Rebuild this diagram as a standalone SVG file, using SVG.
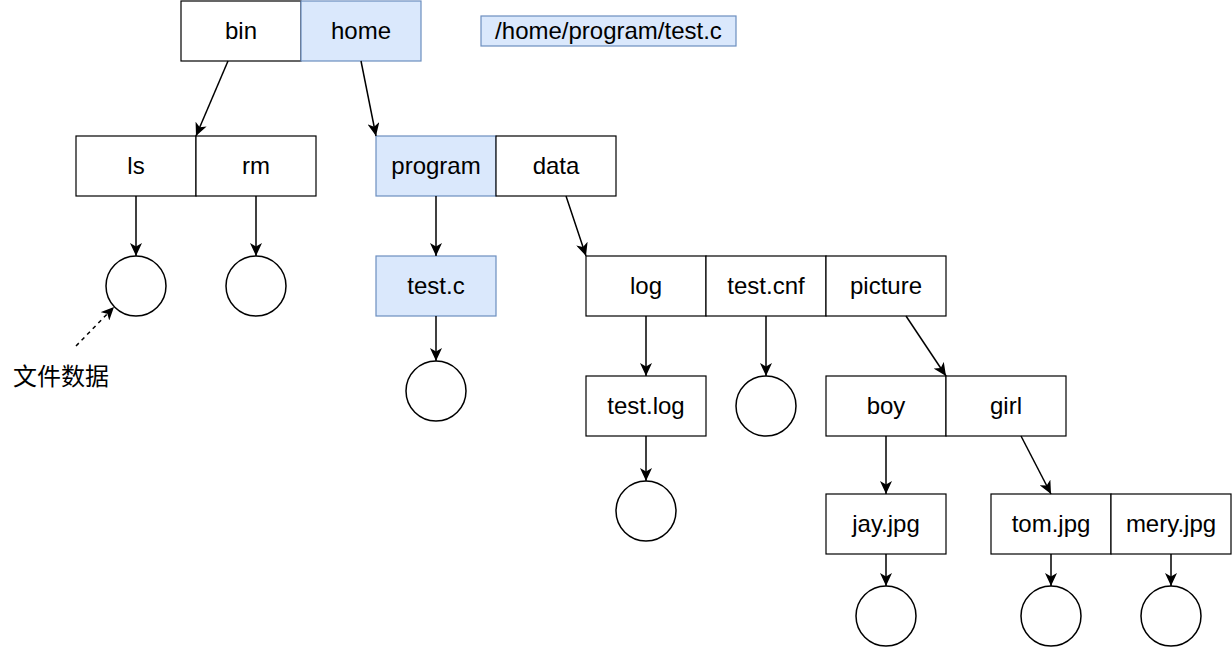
<svg xmlns="http://www.w3.org/2000/svg" width="1232" height="647" viewBox="0 0 1232 647">
<style>
.b{fill:#ffffff;stroke:#000000;stroke-width:1.2}
.h{fill:#dae8fc;stroke:#6c8ebf;stroke-width:1.2}
.c{fill:#ffffff;stroke:#000000;stroke-width:1.5}
text{font-family:"Liberation Sans",Arial,"Noto Sans CJK SC",sans-serif;font-size:24px;fill:#000;text-anchor:middle;dominant-baseline:central}
.e{fill:none;stroke:#000;stroke-width:1.5;marker-end:url(#a)}
.d{fill:none;stroke:#000;stroke-width:1.5;stroke-dasharray:4,4;marker-end:url(#a)}
</style>
<defs>
<marker id="a" markerUnits="userSpaceOnUse" markerWidth="14" markerHeight="12" viewBox="0 0 14 12" refX="13" refY="6" orient="auto">
<path d="M0,0 L13,6 L0,12 L3.5,6 Z" fill="#000"/>
</marker>
</defs>
<g id="n-bin"><rect class="b" x="181" y="1" width="120" height="60"/><text x="241" y="30">bin</text></g>
<g id="n-home"><rect class="h" x="301" y="1" width="120" height="60"/><text x="361" y="30">home</text></g>
<g id="n-path"><rect class="h" x="481" y="16" width="255" height="30"/><text x="608.5" y="30">/home/program/test.c</text></g>
<g id="n-ls"><rect class="b" x="76" y="136" width="120" height="60"/><text x="136" y="165">ls</text></g>
<g id="n-rm"><rect class="b" x="196" y="136" width="120" height="60"/><text x="256" y="165">rm</text></g>
<g id="n-program"><rect class="h" x="376" y="136" width="120" height="60"/><text x="436" y="165">program</text></g>
<g id="n-data"><rect class="b" x="496" y="136" width="120" height="60"/><text x="556" y="165">data</text></g>
<g id="n-testc"><rect class="h" x="376" y="256" width="120" height="60"/><text x="436" y="285">test.c</text></g>
<g id="n-log"><rect class="b" x="586" y="256" width="120" height="60"/><text x="646" y="285">log</text></g>
<g id="n-testcnf"><rect class="b" x="706" y="256" width="120" height="60"/><text x="766" y="285">test.cnf</text></g>
<g id="n-picture"><rect class="b" x="826" y="256" width="120" height="60"/><text x="886" y="285">picture</text></g>
<g id="n-testlog"><rect class="b" x="586" y="376" width="120" height="60"/><text x="646" y="405">test.log</text></g>
<g id="n-boy"><rect class="b" x="826" y="376" width="120" height="60"/><text x="886" y="405">boy</text></g>
<g id="n-girl"><rect class="b" x="946" y="376" width="120" height="60"/><text x="1006" y="405">girl</text></g>
<g id="n-jay"><rect class="b" x="826" y="494" width="120" height="60"/><text x="886" y="523">jay.jpg</text></g>
<g id="n-tom"><rect class="b" x="991" y="494" width="120" height="60"/><text x="1051" y="523">tom.jpg</text></g>
<g id="n-mery"><rect class="b" x="1111" y="494" width="120" height="60"/><text x="1171" y="523">mery.jpg</text></g>
<g id="c-ls"><circle class="c" cx="136" cy="286" r="30"/></g>
<g id="c-rm"><circle class="c" cx="256" cy="286" r="30"/></g>
<g id="c-testc"><circle class="c" cx="436" cy="391" r="30"/></g>
<g id="c-testcnf"><circle class="c" cx="766" cy="406" r="30"/></g>
<g id="c-testlog"><circle class="c" cx="646" cy="511" r="30"/></g>
<g id="c-jay"><circle class="c" cx="886" cy="616" r="30"/></g>
<g id="c-tom"><circle class="c" cx="1051" cy="616" r="30"/></g>
<g id="c-mery"><circle class="c" cx="1171" cy="616" r="30"/></g>
<g id="n-label"><text x="61" y="376">文件数据</text></g>
<g id="connectors">
<line class="e" x1="228" y1="61" x2="196" y2="136"/>
<line class="e" x1="361" y1="61" x2="376" y2="136"/>
<line class="e" x1="136" y1="196" x2="136" y2="256"/>
<line class="e" x1="256" y1="196" x2="256" y2="256"/>
<line class="e" x1="436" y1="196" x2="436" y2="256"/>
<line class="e" x1="566" y1="196" x2="586" y2="256"/>
<line class="e" x1="436" y1="316" x2="436" y2="361"/>
<line class="e" x1="646" y1="316" x2="646" y2="376"/>
<line class="e" x1="766" y1="316" x2="766" y2="376"/>
<line class="e" x1="906" y1="316" x2="946" y2="376"/>
<line class="e" x1="646" y1="436" x2="646" y2="481"/>
<line class="e" x1="886" y1="436" x2="886" y2="494"/>
<line class="e" x1="1021" y1="436" x2="1051" y2="494"/>
<line class="e" x1="886" y1="554" x2="886" y2="586"/>
<line class="e" x1="1051" y1="554" x2="1051" y2="586"/>
<line class="e" x1="1171" y1="554" x2="1171" y2="586"/>
<line class="d" x1="76" y1="346" x2="114" y2="307"/>
</g>
</svg>
